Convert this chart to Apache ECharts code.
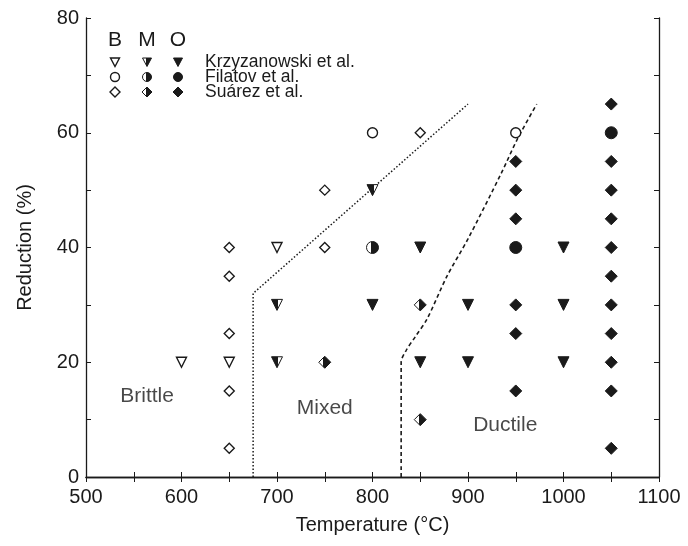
<!DOCTYPE html>
<html>
<head>
<meta charset="utf-8">
<script src="https://cdn.jsdelivr.net/npm/echarts/dist/echarts.min.js"></script>
<style>
  html, body { margin: 0; padding: 0; background: #fff; }
  #chart { width: 688px; height: 546px; }
</style>
</head>
<body>
<div id="chart"></div>
<script>
// B = brittle (open), M = mixed (half), O = ductile (filled)
const krzB = [[600, 20], [650, 20], [700, 40]]
const krzM = [[700, 30], [700, 20], [800, 50]]
const krzO = [[800, 30], [850, 40], [850, 20], [900, 30], [900, 20], [1000, 40], [1000, 30], [1000, 20]]
const filB = [[800, 60], [950, 60]]
const filM = [[800, 40]]
const filO = [[950, 40], [1050, 60]]
const suaB = [[650, 40], [650, 35], [650, 25], [650, 15], [650, 5], [750, 50], [750, 40], [850, 60]]
const suaM = [[750, 20], [850, 30], [850, 10]]
const suaO = [[950, 55], [950, 50], [950, 45], [950, 30], [950, 25], [950, 15],
  [1050, 65], [1050, 55], [1050, 50], [1050, 45], [1050, 40], [1050, 35], [1050, 30],
  [1050, 25], [1050, 20], [1050, 15], [1050, 5]]

// boundaries between regions
const brittleMixed = [[675, 0], [675, 32], [900, 65]]
const mixedDuctile = [[830, 0], [830, 20], [835, 22], [845, 24.5], [857, 27.5], [878, 35], [900, 41.5], [935, 53], [952, 59], [972, 65]]

const regionNames = ['Brittle', 'Mixed', 'Ductile']
const regionAt = [[564, 14], [750, 12], [939, 9]]

const xTicks = [500, 600, 700, 800, 900, 1000, 1100]
const yTicks = [0, 20, 40, 60, 80]
const sources = ['Krzyzanowski et al.', 'Filatov et al.', 'Suárez et al.']

const ink = '#1a1a1a'
const FONT = 'Liberation Sans, Arial, sans-serif'
const half = new echarts.graphic.LinearGradient(0, 0, 1, 0, [
  { offset: 0, color: '#fff' }, { offset: 0.4, color: '#fff' },
  { offset: 0.4, color: ink }, { offset: 1, color: ink },
])

const chart = echarts.init(document.getElementById('chart'))

function marks(data, symbol, kind) {
  const tri = symbol === 'triangle'
  return {
    type: 'scatter',
    data: data,
    symbol: symbol,
    symbolRotate: tri ? 180 : 0,
    symbolSize: kind === 'B' ? 10 : (tri ? 11 : 12),
    itemStyle: {
      color: kind === 'B' ? '#fff' : kind === 'M' ? half : ink,
      borderColor: ink,
      borderWidth: kind === 'B' ? 1.4 : 1,
      opacity: 1,
    },
    z: 5,
  }
}

function axisBase(show) {
  return {
    type: 'value',
    axisLine: { show: true, lineStyle: { color: ink, width: 1.3 } },
    axisTick: { show: true, inside: true, length: 5, lineStyle: { color: ink } },
    splitLine: { show: false },
    axisLabel: { show: show, color: ink, fontSize: 20, fontFamily: FONT },
  }
}

// legend (drawn in pixels, inside the box)
const cols = [115, 147, 178]
const rows = [62, 77, 92]
const legend = []
;['B', 'M', 'O'].forEach((t, i) => {
  legend.push({ type: 'text', x: cols[i], y: 40, style: { text: t, fill: ink, font: '21px ' + FONT, align: 'center', verticalAlign: 'middle' } })
})
const fills = ['#fff', half, ink]
cols.forEach((cx, i) => {
  const st = { fill: fills[i], stroke: ink, lineWidth: i === 0 ? 1.4 : 1 }
  legend.push({ type: 'polygon', shape: { points: [[cx - 4.5, rows[0] - 4], [cx + 4.5, rows[0] - 4], [cx, rows[0] + 4.5]] }, style: st })
  legend.push({ type: 'circle', shape: { cx: cx, cy: rows[1], r: 4.5 }, style: st })
  legend.push({ type: 'polygon', shape: { points: [[cx, rows[2] - 5], [cx + 5, rows[2]], [cx, rows[2] + 5], [cx - 5, rows[2]]] }, style: st })
})
sources.forEach((s, i) => {
  legend.push({ type: 'text', x: 205, y: rows[i], style: { text: s, fill: ink, font: '17.5px ' + FONT, verticalAlign: 'middle' } })
})

chart.setOption({
  animation: false,
  grid: { left: 86, right: 29, top: 18, bottom: 69 },
  xAxis: [
    Object.assign(axisBase(true), {
      min: 500, max: 1100, interval: 50, position: 'bottom',
      name: 'Temperature (°C)', nameLocation: 'middle', nameGap: 38,
      nameTextStyle: { color: ink, fontSize: 20, fontFamily: FONT },
      axisLabel: { color: ink, fontSize: 20, fontFamily: FONT, margin: 10,
        formatter: (v) => (xTicks.includes(v) ? v : '') },
    }),
    Object.assign(axisBase(false), { min: 500, max: 1100, interval: 50, position: 'top' }),
  ],
  yAxis: [
    Object.assign(axisBase(true), {
      min: 0, max: 80, interval: 10, position: 'left',
      name: 'Reduction (%)', nameLocation: 'middle', nameGap: 51,
      nameTextStyle: { color: ink, fontSize: 20, fontFamily: FONT },
      axisLabel: { color: ink, fontSize: 20, fontFamily: FONT, margin: 7,
        formatter: (v) => (yTicks.includes(v) ? v : '') },
    }),
    Object.assign(axisBase(false), { min: 0, max: 80, interval: 10, position: 'right' }),
  ],
  series: [
    {
      type: 'line', data: brittleMixed, symbol: 'none', z: 3,
      lineStyle: { color: ink, width: 1.5, type: [1.5, 2] },
    },
    {
      type: 'line', data: mixedDuctile, symbol: 'none', smooth: 0.3, z: 3,
      lineStyle: { color: ink, width: 1.6, type: [4, 3] },
    },
    marks(krzB, 'triangle', 'B'),
    marks(krzM, 'triangle', 'M'),
    marks(krzO, 'triangle', 'O'),
    marks(filB, 'circle', 'B'),
    marks(filM, 'circle', 'M'),
    marks(filO, 'circle', 'O'),
    marks(suaB, 'diamond', 'B'),
    marks(suaM, 'diamond', 'M'),
    marks(suaO, 'diamond', 'O'),
    {
      type: 'scatter', symbolSize: 0, silent: true,
      data: regionNames.map((n, i) => ({ name: n, value: regionAt[i] })),
      label: { show: true, position: 'inside', formatter: '{b}', color: ink, fontSize: 21, fontFamily: FONT },
    },
  ],
  graphic: legend,
})
</script>
</body>
</html>
